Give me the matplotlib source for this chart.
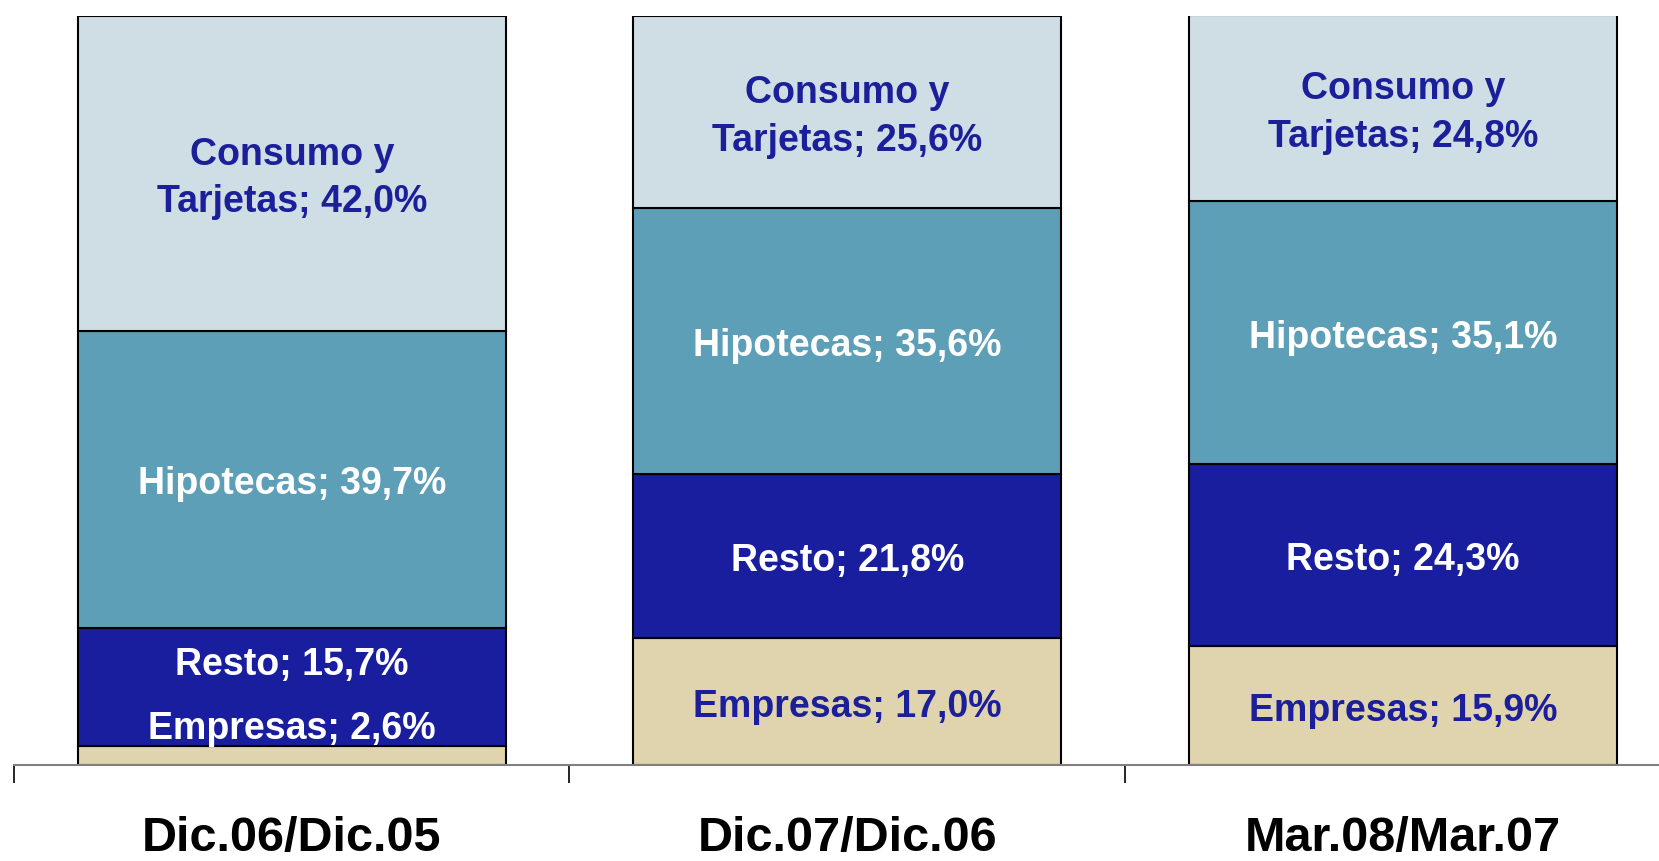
import numpy as np
import matplotlib.pyplot as plt

plt.rcParams['font.family'] = ['Liberation Sans', 'DejaVu Sans']

# data
periods = ['Dic.06/Dic.05', 'Dic.07/Dic.06', 'Mar.08/Mar.07']
segments = ['Empresas', 'Resto', 'Hipotecas', 'Consumo y\nTarjetas']
empresas = [2.6, 17.0, 15.9]
resto = [15.7, 21.8, 24.3]
hipotecas = [39.7, 35.6, 35.1]
consumo = [42.0, 25.6, 24.8]

colors = ['#e0d4af', '#191e9e', '#5e9fb8', '#cfdde5']
text_colors = ['#1c1f9a', 'white', 'white', '#1c1f9a']

values = np.array([empresas, resto, hipotecas, consumo])

fig = plt.figure(figsize=(16.59, 8.61), dpi=100)
ax = fig.add_axes([0.0084, 0.1115, 1.0046, 0.87])

x = np.arange(len(periods))
bottom = np.zeros(len(periods))
for i in range(len(segments)):
    ax.bar(x, values[i], width=0.77, bottom=bottom, color=colors[i],
           edgecolor='black', linewidth=1.5, zorder=2)
    for j in range(len(periods)):
        ypos = bottom[j] + values[i][j] / 2 - 0.7
        col = text_colors[i]
        # first bar: small segments, labels pushed upward
        if j == 0 and i == 0:
            ypos = 4.8
            col = 'white'
        if j == 0 and i == 1:
            ypos = 13.4
        txt = '%s; %s%%' % (segments[i], ('%.1f' % values[i][j]).replace('.', ','))
        ax.text(x[j], ypos, txt, ha='center', va='center', fontsize=27,
                fontweight='bold', color=col, linespacing=1.42, zorder=3)
    bottom += values[i]

ax.set_xlim(-0.5, 2.5)
ax.set_ylim(0, 100)
ax.set_yticks([])
for s in ['top', 'right', 'left']:
    ax.spines[s].set_visible(False)
ax.spines['bottom'].set_color('#808080')
ax.spines['bottom'].set_linewidth(1.5)

ax.set_xticks(x)
ax.set_xticklabels(periods, fontsize=35, fontweight='bold')
ax.tick_params(axis='x', which='major', length=0, pad=37)
ax.set_xticks([-0.5, 0.5, 1.5], minor=True)
ax.tick_params(axis='x', which='minor', length=13, width=1.2, color='black', direction='out')

fig.savefig('out.png', dpi=100)
